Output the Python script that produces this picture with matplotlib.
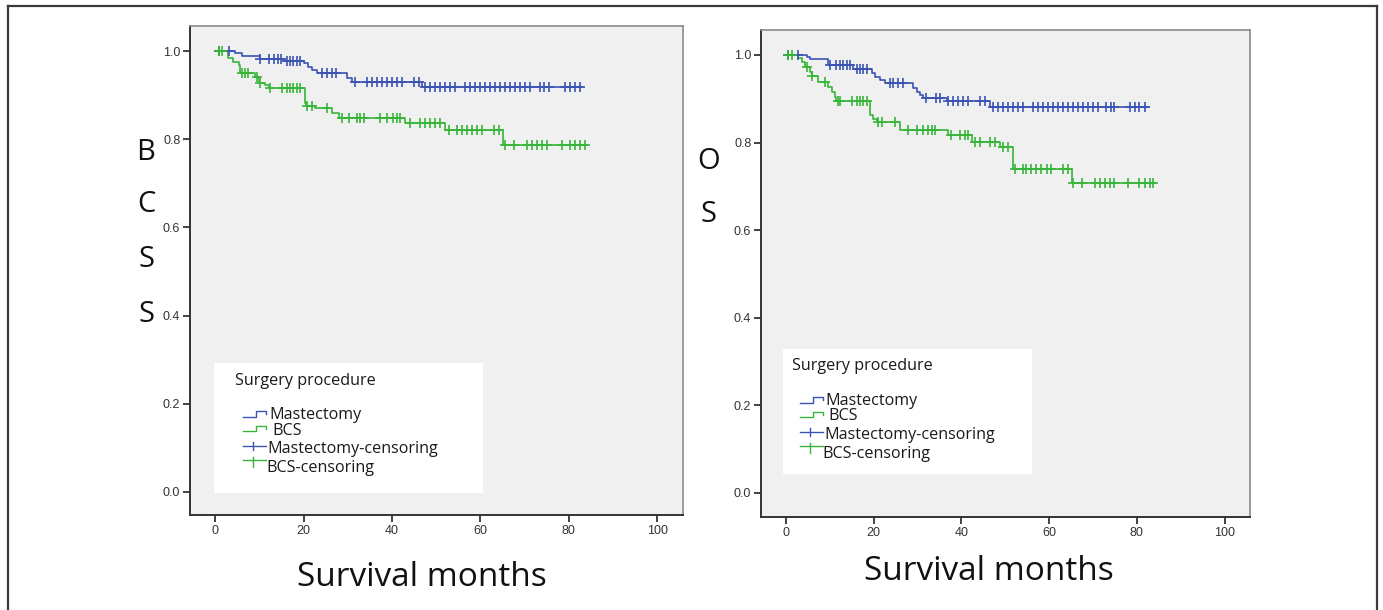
import numpy as np
import matplotlib
matplotlib.use("Agg")
import matplotlib.pyplot as plt
from matplotlib.patches import Rectangle
from matplotlib.lines import Line2D

# ---------------- data ----------------
# BCSS panel
bcss_mast_t = [4.5, 6.0, 10.2, 15.5, 20.0, 21.1, 21.9, 23.0, 29.8, 30.9, 46.8]
bcss_mast_s = [0.995, 0.989, 0.981, 0.978, 0.972, 0.964, 0.956, 0.949, 0.938, 0.930, 0.919]
bcss_mast_end = 82.9
bcss_mast_cens = [0.75, 3.2, 10.2, 12.1, 13.2, 14.1, 14.9, 16.2, 17.0, 17.7, 18.5, 19.2,
                  24.1, 25.3, 26.4, 27.4, 31.7, 34.3, 35.5, 36.6, 37.7, 38.8, 40.0, 41.1,
                  42.2, 44.9, 46.0, 47.5, 48.6, 49.8, 50.9, 52.0, 53.2, 54.3, 56.6, 57.7,
                  58.8, 60.0, 61.1, 62.2, 63.3, 64.5, 65.6, 66.7, 67.9, 69.0, 70.1, 71.3,
                  73.5, 74.3, 75.4, 79.2, 80.3, 81.4, 82.6]

bcss_bcs_t = [3.0, 4.1, 5.3, 5.7, 9.0, 9.8, 11.3, 12.1, 20.4, 20.6, 22.6, 26.4, 27.9,
              43.0, 52.0, 65.2]
bcss_bcs_s = [0.985, 0.976, 0.968, 0.951, 0.942, 0.928, 0.923, 0.917, 0.881, 0.875,
              0.870, 0.860, 0.847, 0.836, 0.821, 0.787]
bcss_bcs_end = 84.0
bcss_bcs_cens = [0.75, 1.5, 6.0, 6.8, 7.5, 9.4, 10.2, 12.4, 15.1, 16.2, 17.0, 17.7, 18.5,
                 19.2, 20.7, 21.9, 25.3, 28.7, 30.2, 32.1, 32.8, 33.6, 37.3, 38.8, 40.3,
                 41.1, 41.9, 44.1, 46.4, 47.5, 48.6, 49.8, 50.9, 52.8, 54.7, 55.8, 56.9,
                 58.1, 59.2, 60.3, 63.0, 64.1, 65.6, 67.5, 70.5, 71.6, 72.8, 73.9, 75.0,
                 78.4, 80.3, 81.4, 82.6, 83.7]

# OS panel
os_mast_t = [4.7, 5.5, 9.6, 15.3, 19.5, 20.3, 21.4, 22.6, 29.0, 29.8, 30.5, 31.3, 36.6, 46.5]
os_mast_s = [0.995, 0.990, 0.977, 0.967, 0.958, 0.950, 0.943, 0.937, 0.924, 0.916, 0.909,
             0.901, 0.895, 0.882]
os_mast_end = 82.5
os_mast_cens = [0.5, 2.8, 10.0, 11.5, 12.3, 13.1, 13.8, 14.6, 16.1, 16.9, 17.6, 18.4, 23.7,
                24.4, 25.6, 26.7, 32.0, 34.3, 35.1, 37.0, 38.1, 39.2, 40.4, 41.5, 44.2,
                45.3, 47.2, 48.4, 49.5, 50.6, 51.8, 52.9, 54.1, 56.3, 57.5, 58.6, 59.8,
                60.9, 62.0, 63.2, 64.3, 65.4, 66.6, 67.7, 68.9, 70.0, 71.1, 73.0, 74.2,
                74.9, 78.4, 79.5, 80.6, 81.8]

os_bcs_t = [2.8, 3.6, 4.3, 5.5, 5.9, 7.4, 9.6, 10.4, 11.2, 11.5, 19.1, 19.9, 20.7, 26.0,
            37.0, 42.3, 48.7, 51.8, 65.1]
os_bcs_s = [0.992, 0.985, 0.973, 0.962, 0.951, 0.939, 0.928, 0.916, 0.905, 0.896, 0.863,
            0.853, 0.848, 0.829, 0.817, 0.802, 0.789, 0.739, 0.708]
os_bcs_end = 84.0
os_bcs_cens = [0.5, 1.3, 4.7, 5.9, 8.9, 11.9, 12.3, 15.0, 16.1, 16.9, 17.6, 18.4, 21.0,
               21.8, 24.8, 27.9, 29.8, 31.3, 32.4, 33.2, 33.9, 37.7, 39.6, 40.8, 41.5,
               43.1, 44.2, 46.5, 47.6, 49.5, 50.6, 52.2, 54.1, 54.8, 55.9, 57.1, 58.2,
               59.4, 60.5, 63.2, 64.3, 65.4, 67.4, 70.4, 71.5, 72.7, 73.8, 74.9, 78.0,
               80.6, 81.8, 82.9, 83.7]

x_ticks = [0, 20, 40, 60, 80, 100]
y_ticks = [0.0, 0.2, 0.4, 0.6, 0.8, 1.0]
legend_title = "Surgery procedure"
legend_labels = ["Mastectomy", "BCS", "Mastectomy-censoring", "BCS-censoring"]
x_label = "Survival months"

# ---------------- styling ----------------
W, H = 1383, 610
BLUE = "#3b53b3"
GREEN = "#38b538"
BG = "#f0f0f0"
UI_FONT = "Open Sans"
TICK_FONT = "Liberation Sans"

fig = plt.figure(figsize=(W / 100, H / 100), dpi=100)
fig.patch.set_facecolor("white")


def fx(x):
    return x / W


def fy(y):
    return 1 - y / H


def km(ax, t, s, end, cens, color):
    tt = np.concatenate([[0.0], t, [end]])
    ss = np.concatenate([[1.0], s, [s[-1]]])
    ax.step(tt, ss, where="post", color=color, lw=1.2, zorder=3)
    c = np.asarray(cens)
    idx = np.searchsorted(np.asarray(t), c, side="right")
    cs = np.concatenate([[1.0], s])[idx]
    ax.plot(c, cs, ls="none", marker="+", ms=7, mew=1.2, color=color, zorder=4)


def style_axes(ax, ylim):
    ax.set_facecolor(BG)
    ax.set_xlim(-5.7, 105.8)
    ax.set_ylim(*ylim)
    ax.set_xticks(x_ticks)
    ax.set_yticks(y_ticks)
    ax.set_xticklabels([str(v) for v in x_ticks])
    ax.set_yticklabels([f"{v:.1f}" for v in y_ticks])
    for lab in ax.get_xticklabels() + ax.get_yticklabels():
        lab.set_fontfamily(TICK_FONT)
        lab.set_fontsize(9)
        lab.set_color("#333333")
    ax.tick_params(direction="out", length=5, width=1.3, color="#333333", pad=2)
    for side in ["left", "bottom"]:
        ax.spines[side].set_color("#333333")
        ax.spines[side].set_linewidth(1.4)
    for side in ["top", "right"]:
        ax.spines[side].set_color("#8a8a8a")
        ax.spines[side].set_linewidth(1.2)


def legend(tx, ty, box):
    bx0, by0, bx1, by1 = box
    fig.add_artist(Rectangle((fx(bx0), fy(by1)), (bx1 - bx0) / W, (by1 - by0) / H,
                             transform=fig.transFigure, facecolor="white",
                             edgecolor="none", zorder=5))
    tk = dict(fontfamily=UI_FONT, fontsize=11.6, color="#1a1a1a", va="center",
              ha="left", zorder=6)
    fig.text(fx(tx), fy(ty), legend_title, **tk)
    # step glyphs
    for (lo, hi), col in [((36.5, 30.0), BLUE), ((50.0, 45.0), GREEN)]:
        xs = [tx + 8, tx + 21, tx + 21, tx + 31, tx + 31]
        ys = [ty + lo, ty + lo, ty + hi, ty + hi, ty + hi + 3]
        fig.add_artist(Line2D([fx(v) for v in xs], [fy(v) for v in ys],
                              transform=fig.transFigure, color=col, lw=1.0, zorder=6))
    # plus glyphs
    for (hy, v0, v1), col in [((65.0, 61.0, 69.5), BLUE), ((79.5, 76.0, 86.0), GREEN)]:
        fig.add_artist(Line2D([fx(tx + 8), fx(tx + 31)], [fy(ty + hy)] * 2,
                              transform=fig.transFigure, color=col, lw=1.0, zorder=6))
        fig.add_artist(Line2D([fx(tx + 18.3)] * 2, [fy(ty + v0), fy(ty + v1)],
                              transform=fig.transFigure, color=col, lw=1.0, zorder=6))
    offs = [(34, 34.5), (37, 50.0), (32.5, 68.5), (31, 87.5)]
    for (dx, dy), lab in zip(offs, legend_labels):
        fig.text(fx(tx + dx), fy(ty + dy), lab, **tk)


# ---------------- left panel: BCSS ----------------
ax1 = fig.add_axes([fx(190), fy(515), (683 - 190) / W, (515 - 26) / H])
style_axes(ax1, (-0.0522, 1.0567))
km(ax1, bcss_mast_t, bcss_mast_s, bcss_mast_end, bcss_mast_cens, BLUE)
km(ax1, bcss_bcs_t, bcss_bcs_s, bcss_bcs_end, bcss_bcs_cens, GREEN)

# ---------------- right panel: OS ----------------
ax2 = fig.add_axes([fx(761), fy(517), (1250 - 761) / W, (517 - 30) / H])
style_axes(ax2, (-0.0548, 1.057))
km(ax2, os_mast_t, os_mast_s, os_mast_end, os_mast_cens, BLUE)
km(ax2, os_bcs_t, os_bcs_s, os_bcs_end, os_bcs_cens, GREEN)

# legends
legend(235, 380.7, (214, 363, 483, 493))
legend(791.7, 366.5, (783, 349, 1032, 474))

# y-axis labels (stacked letters)
big = dict(fontfamily=UI_FONT, fontsize=21, color="#111111", ha="center", va="center")
for ch, y in zip("BCSS", [152, 204, 259, 315]):
    fig.text(fx(146), fy(y), ch, **big)
for ch, y in zip("OS", [161, 214]):
    fig.text(fx(709), fy(y), ch, **big)

# x-axis labels
xl = dict(fontfamily=UI_FONT, fontsize=24, color="#111111", ha="center", va="center")
fig.text(fx(422), fy(578), x_label, **xl)
fig.text(fx(989), fy(571), x_label, **xl)

# outer frame
for xs, ys in [([8, 8], [6, 612]), ([8, 1377], [6, 6]), ([1377, 1377], [6, 612])]:
    fig.add_artist(Line2D([fx(v) for v in xs], [fy(v) for v in ys],
                          transform=fig.transFigure, color="#3a3a3a", lw=1.6, zorder=7))

fig.savefig("out.png", dpi=100, facecolor="white")
